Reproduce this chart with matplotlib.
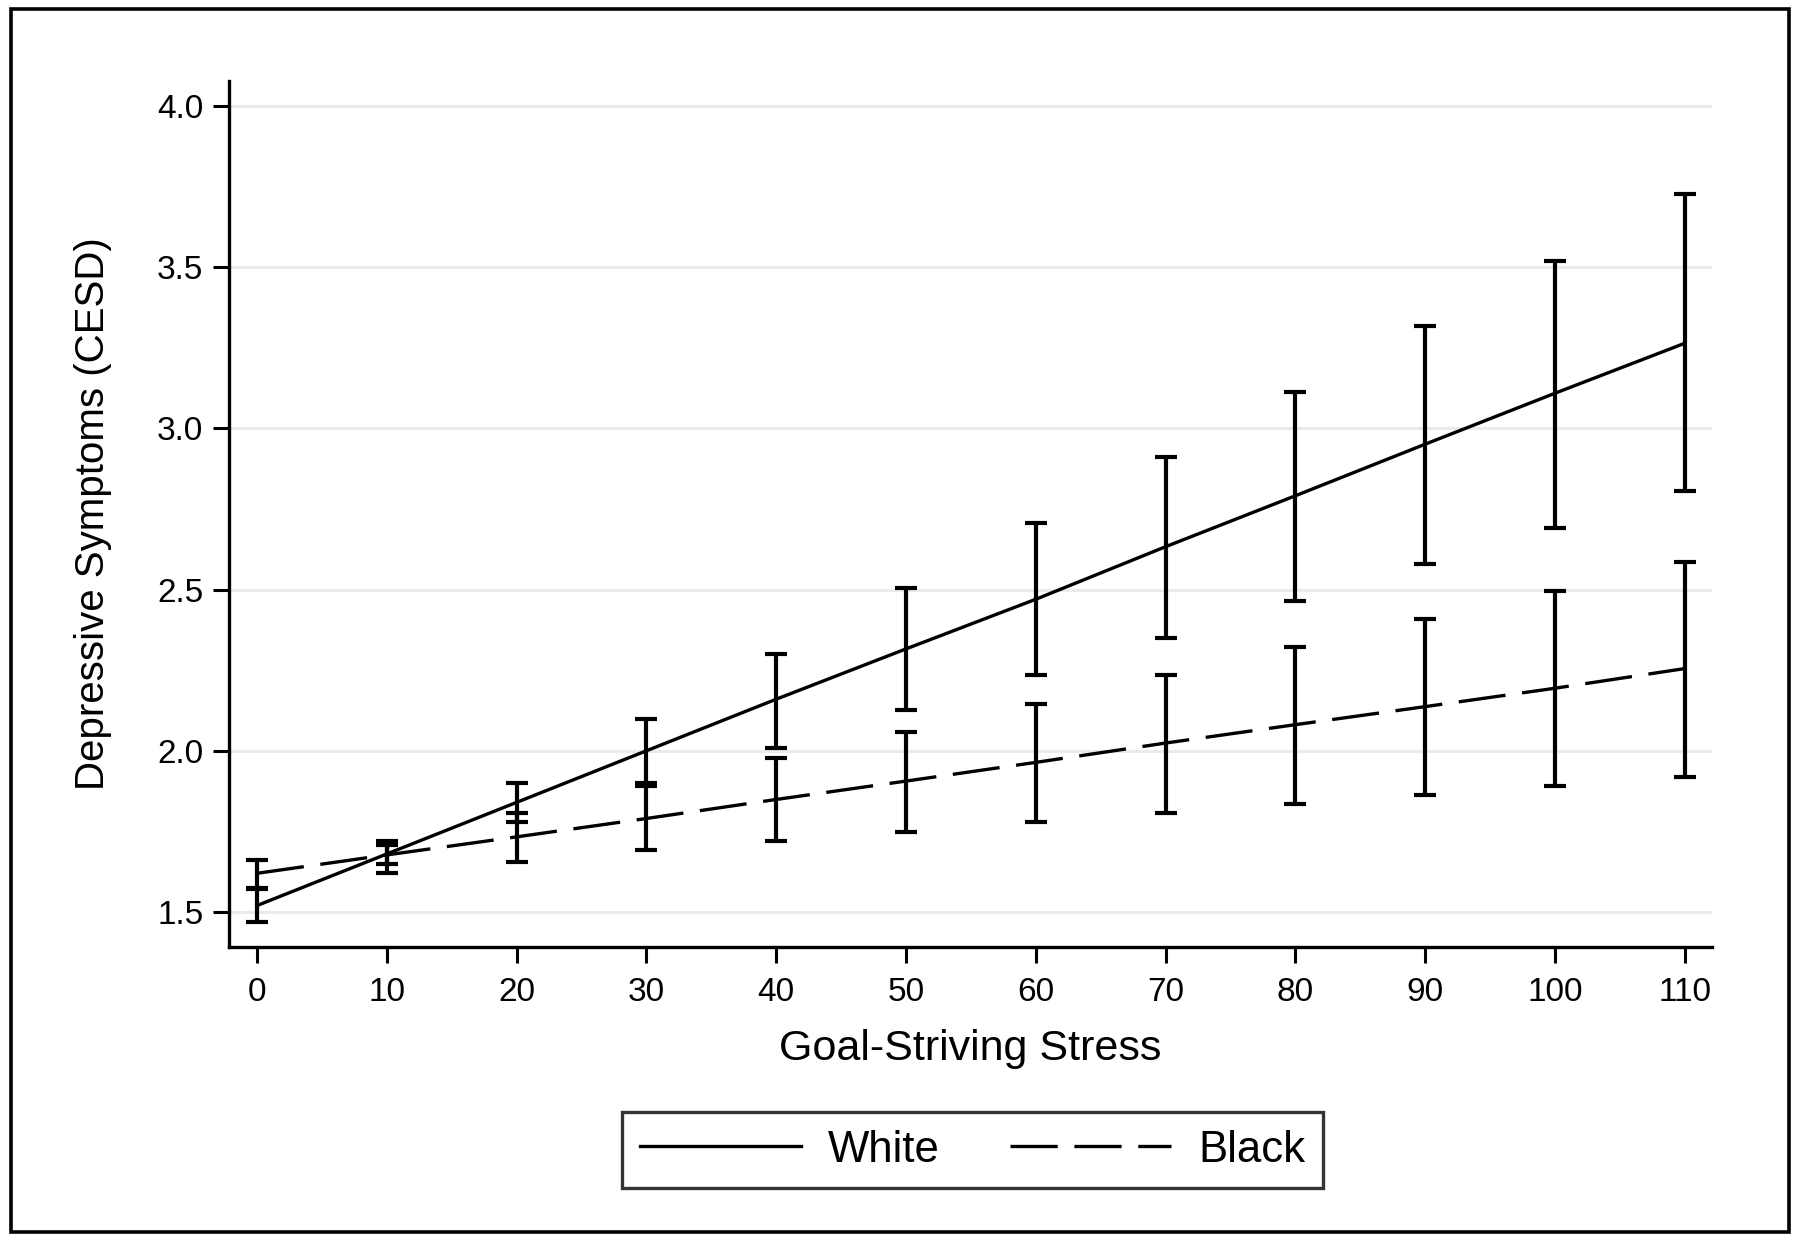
import matplotlib
matplotlib.use("Agg")
import matplotlib.pyplot as plt
from matplotlib.patches import Rectangle
from matplotlib.lines import Line2D

# ---- data ----
stress = [0, 10, 20, 30, 40, 50, 60, 70, 80, 90, 100, 110]

white_mean = [1.52, 1.68, 1.84, 2.00, 2.16, 2.316, 2.47, 2.633, 2.791, 2.951, 3.109, 3.264]
white_lo = [1.47, 1.65, 1.78, 1.90, 2.01, 2.127, 2.236, 2.351, 2.465, 2.578, 2.692, 2.806]
white_hi = [1.57, 1.72, 1.90, 2.098, 2.301, 2.504, 2.706, 2.910, 3.113, 3.318, 3.520, 3.727]

black_mean = [1.62, 1.677, 1.733, 1.79, 1.849, 1.906, 1.964, 2.024, 2.081, 2.137, 2.194, 2.255]
black_lo = [1.575, 1.62, 1.656, 1.692, 1.721, 1.749, 1.778, 1.807, 1.836, 1.864, 1.892, 1.92]
black_hi = [1.661, 1.708, 1.806, 1.89, 1.977, 2.059, 2.146, 2.234, 2.321, 2.409, 2.497, 2.585]

x_ticks = [0, 10, 20, 30, 40, 50, 60, 70, 80, 90, 100, 110]
y_ticks = [1.5, 2.0, 2.5, 3.0, 3.5, 4.0]
y_tick_labels = ["1.5", "2.0", "2.5", "3.0", "3.5", "4.0"]

x_label = "Goal-Striving Stress"
y_label = "Depressive Symptoms (CESD)"
series_names = ["White", "Black"]

# ---- style ----
plt.rcParams["font.family"] = ["Liberation Sans", "DejaVu Sans"]
plt.rcParams["lines.scale_dashes"] = False

W, H = 1800, 1241
fig = plt.figure(figsize=(W / 100, H / 100), dpi=100)
fig.patch.set_facecolor("white")

ax_l, ax_r, ax_t, ax_b = 229, 1712, 81, 947
ax = fig.add_axes([ax_l / W, 1 - ax_b / H, (ax_r - ax_l) / W, (ax_b - ax_t) / H])

dash = (0, (34, 12))
err_lw = 3.0
line_lw = 2.4
cap = 7.9


def yerr(mean, lo, hi):
    return [[m - l for m, l in zip(mean, lo)], [h - m for m, h in zip(mean, hi)]]


for mean, lo, hi in [(white_mean, white_lo, white_hi), (black_mean, black_lo, black_hi)]:
    ax.errorbar(stress, mean, yerr=yerr(mean, lo, hi), fmt="none", ecolor="black",
                elinewidth=err_lw, capsize=cap, capthick=err_lw, zorder=3)

ax.plot(stress, white_mean, color="black", lw=line_lw, ls="-", zorder=4)
ax.plot(stress, black_mean, color="black", lw=line_lw, ls=dash, zorder=4)

# axes limits chosen so the ticks land where the reference has them
ax.set_xlim(-2.16, 112.1)
ax.set_ylim(1.3914, 4.0775)

ax.set_xticks(x_ticks)
ax.set_yticks(y_ticks)
ax.set_yticklabels(y_tick_labels)

for s in ["top", "right"]:
    ax.spines[s].set_visible(False)
for s in ["left", "bottom"]:
    ax.spines[s].set_linewidth(2.4)
    ax.spines[s].set_color("black")

ax.tick_params(axis="both", which="major", direction="out", length=11.5, width=2.2,
               labelsize=24, colors="black")
ax.tick_params(axis="y", pad=7)
ax.tick_params(axis="x", pad=10)

ax.yaxis.grid(True, color="#ebebeb", lw=2.2)
ax.xaxis.grid(False)
ax.set_axisbelow(True)

ax.set_xlabel(x_label, fontsize=31)
ax.set_ylabel(y_label, fontsize=29)
ax.xaxis.set_label_coords(0.5, -0.095)
ax.yaxis.set_label_coords(-0.079, 0.5)

handles = [Line2D([], [], color="black", lw=line_lw, ls="-"),
           Line2D([], [], color="black", lw=line_lw, ls=dash)]
leg = fig.legend(handles, series_names, loc="center",
                 bbox_to_anchor=(972.5 / W, 1 - 1150 / H), ncol=2, fontsize=31.5,
                 frameon=True, fancybox=False, shadow=False, edgecolor="black",
                 handlelength=3.68, handletextpad=0.62, columnspacing=1.6,
                 borderpad=0.4, borderaxespad=0)
leg.get_frame().set_linewidth(2.4)

# outer frame
fig.add_artist(Rectangle((11 / W, 1 - 1232 / H), (1789 - 11) / W, (1232 - 9) / H,
                         transform=fig.transFigure, fill=False, lw=2.6, edgecolor="black"))

fig.savefig("out.png", dpi=100, facecolor="white")
